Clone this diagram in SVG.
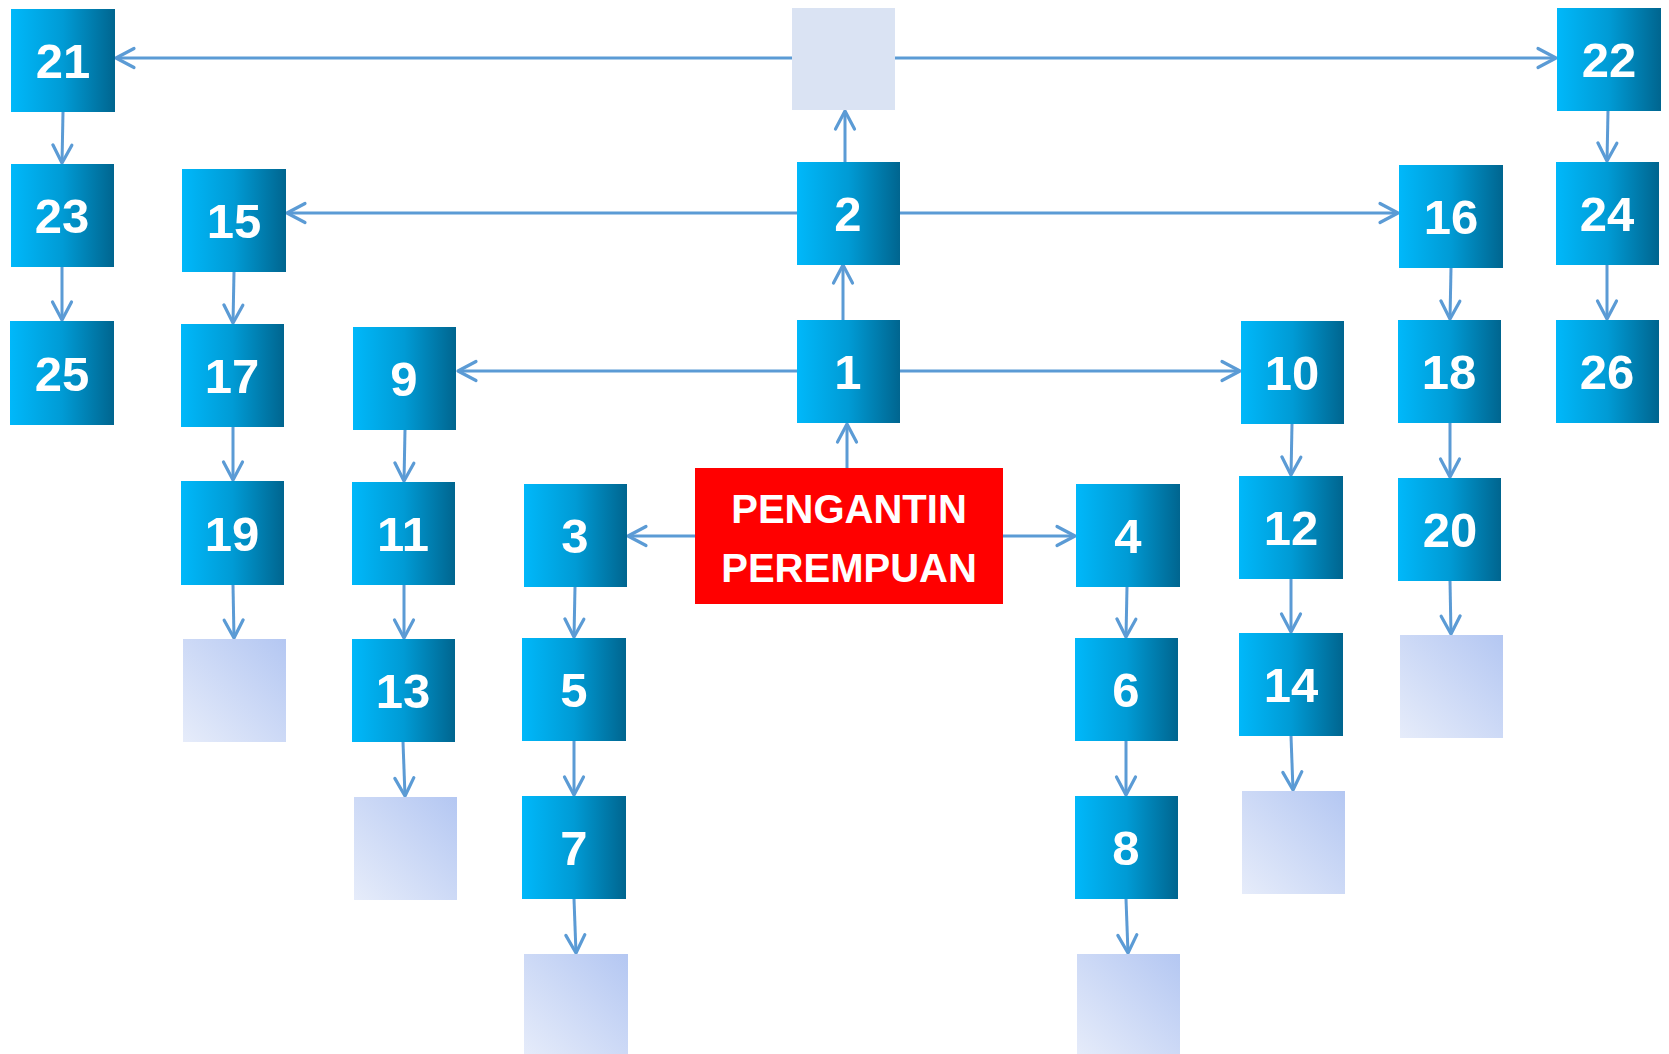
<svg xmlns="http://www.w3.org/2000/svg" width="1669" height="1054" viewBox="0 0 1669 1054">
<defs>
<linearGradient id="blue" x1="0" y1="0" x2="1" y2="0">
<stop offset="0" stop-color="#00B8FA"/>
<stop offset="0.5" stop-color="#009BD5"/>
<stop offset="1" stop-color="#00658F"/>
</linearGradient>
<linearGradient id="pale" x1="1" y1="0" x2="0" y2="1">
<stop offset="0" stop-color="#B4C7F2"/>
<stop offset="1" stop-color="#E6ECFA"/>
</linearGradient>
<marker id="arr" markerUnits="userSpaceOnUse" markerWidth="26" markerHeight="26" viewBox="-22 -13 26 26" refX="0" refY="0" orient="auto">
<path d="M-18,-9.5 L0,0 L-18,9.5" fill="none" stroke="#5B9BD5" stroke-width="3.2" stroke-linecap="round" stroke-linejoin="round"/>
</marker>
</defs>
<style>
.b{fill:url(#blue)}
.p{fill:url(#pale)}
.t{font-family:"Liberation Sans",Arial,sans-serif;font-weight:bold;font-size:49px;fill:#FFFFFF;text-anchor:middle}
.r{font-family:"Liberation Sans",Arial,sans-serif;font-weight:bold;font-size:40px;fill:#FFFFFF;text-anchor:middle}
#connectors line{stroke:#5B9BD5;stroke-width:3;marker-end:url(#arr)}
</style>
<rect width="1669" height="1054" fill="#FFFFFF"/>
<g id="connectors">
<line x1="792" y1="58" x2="116" y2="58"/>
<line x1="895" y1="58" x2="1556" y2="58"/>
<line x1="845" y1="162" x2="845" y2="111"/>
<line x1="797" y1="213" x2="287" y2="213"/>
<line x1="900" y1="213" x2="1398" y2="213"/>
<line x1="843" y1="320" x2="843" y2="265"/>
<line x1="797" y1="371" x2="458" y2="371"/>
<line x1="900" y1="371" x2="1240" y2="371"/>
<line x1="847" y1="468" x2="847" y2="424"/>
<line x1="695" y1="536" x2="628" y2="536"/>
<line x1="1003" y1="536" x2="1075" y2="536"/>
<line x1="63" y1="112" x2="62" y2="163"/>
<line x1="62" y1="267" x2="62" y2="320"/>
<line x1="234" y1="272" x2="233" y2="323"/>
<line x1="233" y1="427" x2="233" y2="480"/>
<line x1="233" y1="585" x2="234" y2="638"/>
<line x1="405" y1="430" x2="404" y2="481"/>
<line x1="404" y1="585" x2="404" y2="638"/>
<line x1="403" y1="742" x2="405" y2="796"/>
<line x1="575" y1="587" x2="574" y2="637"/>
<line x1="574" y1="741" x2="574" y2="795"/>
<line x1="574" y1="899" x2="576" y2="953"/>
<line x1="1127" y1="587" x2="1126" y2="637"/>
<line x1="1126" y1="741" x2="1126" y2="795"/>
<line x1="1126" y1="899" x2="1128" y2="953"/>
<line x1="1292" y1="424" x2="1291" y2="475"/>
<line x1="1291" y1="579" x2="1291" y2="632"/>
<line x1="1291" y1="736" x2="1293" y2="790"/>
<line x1="1451" y1="268" x2="1450" y2="319"/>
<line x1="1450" y1="423" x2="1450" y2="477"/>
<line x1="1450" y1="581" x2="1451" y2="634"/>
<line x1="1608" y1="111" x2="1607" y2="161"/>
<line x1="1607" y1="265" x2="1607" y2="319"/>
</g>
<g id="n21"><rect class="b" x="11" y="9" width="104" height="103"/><text class="t" x="63" y="78">21</text></g>
<g id="nTop"><rect x="792" y="8" width="103" height="102" fill="#DAE3F3"/></g>
<g id="n22"><rect class="b" x="1557" y="8" width="104" height="103"/><text class="t" x="1609" y="77">22</text></g>
<g id="n23"><rect class="b" x="11" y="164" width="103" height="103"/><text class="t" x="62" y="233">23</text></g>
<g id="n15"><rect class="b" x="182" y="169" width="104" height="103"/><text class="t" x="234" y="238">15</text></g>
<g id="n2"><rect class="b" x="797" y="162" width="103" height="103"/><text class="t" x="848" y="231">2</text></g>
<g id="n16"><rect class="b" x="1399" y="165" width="104" height="103"/><text class="t" x="1451" y="234">16</text></g>
<g id="n24"><rect class="b" x="1556" y="162" width="103" height="103"/><text class="t" x="1607" y="231">24</text></g>
<g id="n25"><rect class="b" x="10" y="321" width="104" height="104"/><text class="t" x="62" y="391">25</text></g>
<g id="n17"><rect class="b" x="181" y="324" width="103" height="103"/><text class="t" x="232" y="393">17</text></g>
<g id="n9"><rect class="b" x="353" y="327" width="103" height="103"/><text class="t" x="404" y="396">9</text></g>
<g id="n1"><rect class="b" x="797" y="320" width="103" height="103"/><text class="t" x="848" y="389">1</text></g>
<g id="n10"><rect class="b" x="1241" y="321" width="103" height="103"/><text class="t" x="1292" y="390">10</text></g>
<g id="n18"><rect class="b" x="1398" y="320" width="103" height="103"/><text class="t" x="1449" y="389">18</text></g>
<g id="n26"><rect class="b" x="1556" y="320" width="103" height="103"/><text class="t" x="1607" y="389">26</text></g>
<g id="n19"><rect class="b" x="181" y="481" width="103" height="104"/><text class="t" x="232" y="551">19</text></g>
<g id="n11"><rect class="b" x="352" y="482" width="103" height="103"/><text class="t" x="403" y="551">11</text></g>
<g id="n3"><rect class="b" x="524" y="484" width="103" height="103"/><text class="t" x="575" y="553">3</text></g>
<g id="nRoot"><rect x="695" y="468" width="308" height="136" fill="#FF0000"/><text class="r" x="849" y="523">PENGANTIN</text><text class="r" x="849" y="582">PEREMPUAN</text></g>
<g id="n4"><rect class="b" x="1076" y="484" width="104" height="103"/><text class="t" x="1128" y="553">4</text></g>
<g id="n12"><rect class="b" x="1239" y="476" width="104" height="103"/><text class="t" x="1291" y="545">12</text></g>
<g id="n20"><rect class="b" x="1398" y="478" width="103" height="103"/><text class="t" x="1450" y="547">20</text></g>
<g id="nB19"><rect class="p" x="183" y="639" width="103" height="103"/></g>
<g id="n13"><rect class="b" x="352" y="639" width="103" height="103"/><text class="t" x="403" y="708">13</text></g>
<g id="n5"><rect class="b" x="522" y="638" width="104" height="103"/><text class="t" x="574" y="707">5</text></g>
<g id="n6"><rect class="b" x="1075" y="638" width="103" height="103"/><text class="t" x="1126" y="707">6</text></g>
<g id="n14"><rect class="b" x="1239" y="633" width="104" height="103"/><text class="t" x="1291" y="702">14</text></g>
<g id="nB20"><rect class="p" x="1400" y="635" width="103" height="103"/></g>
<g id="nB13"><rect class="p" x="354" y="797" width="103" height="103"/></g>
<g id="n7"><rect class="b" x="522" y="796" width="104" height="103"/><text class="t" x="574" y="865">7</text></g>
<g id="n8"><rect class="b" x="1075" y="796" width="103" height="103"/><text class="t" x="1126" y="865">8</text></g>
<g id="nB14"><rect class="p" x="1242" y="791" width="103" height="103"/></g>
<g id="nB7"><rect class="p" x="524" y="954" width="104" height="103"/></g>
<g id="nB8"><rect class="p" x="1077" y="954" width="103" height="103"/></g>
</svg>
